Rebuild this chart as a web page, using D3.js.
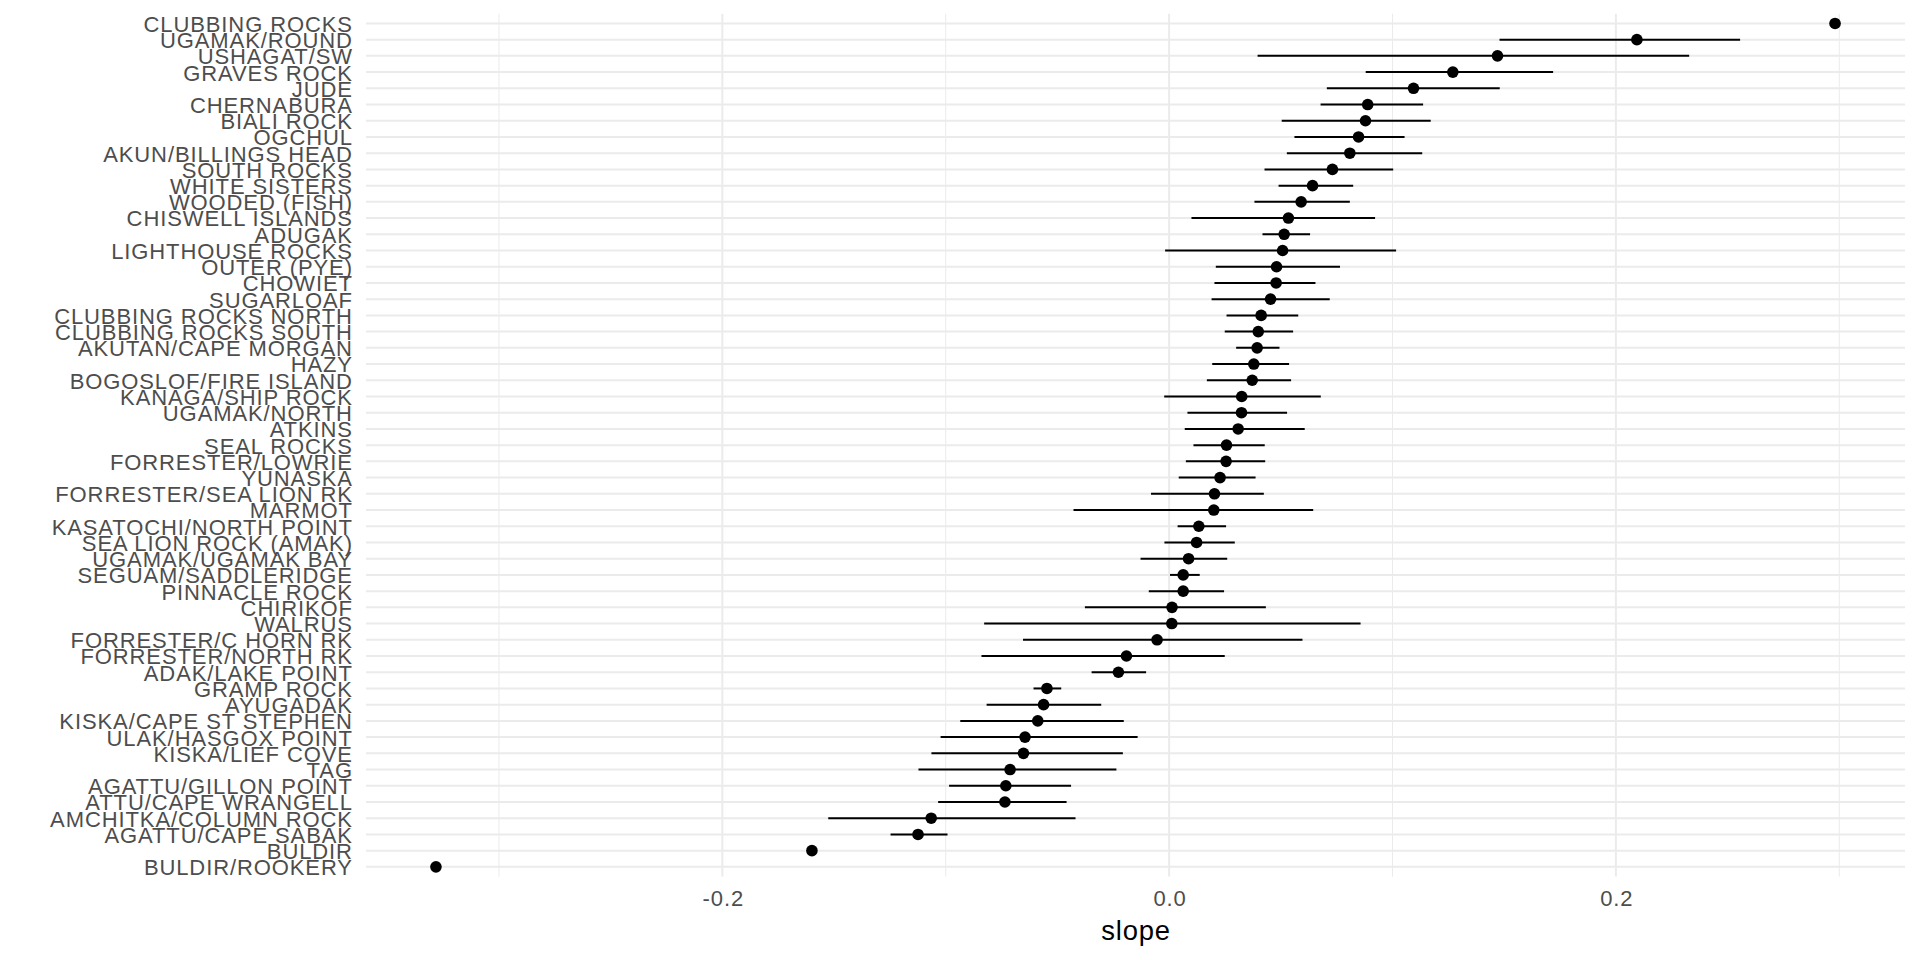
<!DOCTYPE html>
<html>
<head>
<meta charset="utf-8">
<script src="https://cdn.jsdelivr.net/npm/d3@7"></script>
<style>
  html, body { margin: 0; padding: 0; background: #ffffff; }
  svg { display: block; }
  text { font-family: "Liberation Sans", Arial, Helvetica, sans-serif; }
</style>
</head>
<body>
<script>
// ---- data ----
const sites = [
  "CLUBBING ROCKS","UGAMAK/ROUND","USHAGAT/SW","GRAVES ROCK","JUDE","CHERNABURA",
  "BIALI ROCK","OGCHUL","AKUN/BILLINGS HEAD","SOUTH ROCKS","WHITE SISTERS","WOODED (FISH)",
  "CHISWELL ISLANDS","ADUGAK","LIGHTHOUSE ROCKS","OUTER (PYE)","CHOWIET","SUGARLOAF",
  "CLUBBING ROCKS NORTH","CLUBBING ROCKS SOUTH","AKUTAN/CAPE MORGAN","HAZY",
  "BOGOSLOF/FIRE ISLAND","KANAGA/SHIP ROCK","UGAMAK/NORTH","ATKINS","SEAL ROCKS",
  "FORRESTER/LOWRIE","YUNASKA","FORRESTER/SEA LION RK","MARMOT","KASATOCHI/NORTH POINT",
  "SEA LION ROCK (AMAK)","UGAMAK/UGAMAK BAY","SEGUAM/SADDLERIDGE","PINNACLE ROCK",
  "CHIRIKOF","WALRUS","FORRESTER/C HORN RK","FORRESTER/NORTH RK","ADAK/LAKE POINT",
  "GRAMP ROCK","AYUGADAK","KISKA/CAPE ST STEPHEN","ULAK/HASGOX POINT","KISKA/LIEF COVE",
  "TAG","AGATTU/GILLON POINT","ATTU/CAPE WRANGELL","AMCHITKA/COLUMN ROCK",
  "AGATTU/CAPE SABAK","BULDIR","BULDIR/ROOKERY"
];
const slope = [
  0.2981, 0.2094, 0.1470, 0.1270, 0.1094, 0.0889,
  0.0879, 0.0848, 0.0809, 0.0731, 0.0642, 0.0591,
  0.0534, 0.0515, 0.0508, 0.0481, 0.0479, 0.0454,
  0.0412, 0.0399, 0.0394, 0.0379,
  0.0372, 0.0325, 0.0324, 0.0309, 0.0257,
  0.0255, 0.0228, 0.0203, 0.0200, 0.0133,
  0.0123, 0.0087, 0.0063, 0.0063,
  0.0013, 0.0012, -0.0054, -0.0191, -0.0227,
  -0.0547, -0.0562, -0.0588, -0.0645, -0.0652,
  -0.0712, -0.0731, -0.0735, -0.1065,
  -0.1124, -0.1599, -0.3282
];
const lower = [
  null, 0.1479, 0.0396, 0.0880, 0.0706, 0.0678,
  0.0504, 0.0561, 0.0527, 0.0427, 0.0490, 0.0382,
  0.0100, 0.0418, -0.0018, 0.0209, 0.0203, 0.0190,
  0.0257, 0.0249, 0.0300, 0.0193,
  0.0169, -0.0022, 0.0082, 0.0070, 0.0109,
  0.0075, 0.0043, -0.0081, -0.0428, 0.0038,
  -0.0021, -0.0128, 0.0004, -0.0091,
  -0.0377, -0.0828, -0.0654, -0.0840, -0.0347,
  -0.0607, -0.0817, -0.0935, -0.1023, -0.1064,
  -0.1122, -0.0985, -0.1034, -0.1526,
  -0.1247, null, null
];
const upper = [
  null, 0.2556, 0.2328, 0.1719, 0.1480, 0.1137,
  0.1171, 0.1054, 0.1133, 0.1003, 0.0824, 0.0809,
  0.0922, 0.0631, 0.1016, 0.0765, 0.0655, 0.0719,
  0.0578, 0.0555, 0.0494, 0.0537,
  0.0546, 0.0679, 0.0528, 0.0607, 0.0428,
  0.0430, 0.0387, 0.0424, 0.0645, 0.0255,
  0.0294, 0.0260, 0.0137, 0.0246,
  0.0433, 0.0857, 0.0597, 0.0249, -0.0103,
  -0.0483, -0.0304, -0.0203, -0.0141, -0.0207,
  -0.0236, -0.0439, -0.0459, -0.0419,
  -0.0992, null, null
];
const majorTicks = [-0.2, 0.0, 0.2];
const majorTickLabels = ["-0.2", "0.0", "0.2"];
const minorTicks = [-0.3, -0.1, 0.1, 0.3];
const xTitle = "slope";

// ---- layout ----
const W = 1920, H = 960;
const panel = { left: 366, right: 1905, top: 13.7, bottom: 876.6 };
const FONT = '"Liberation Sans", Arial, Helvetica, sans-serif';
const LS = 0.9; // letter spacing to match reference glyph advances

const rows = sites.map((s, i) => ({ site: s, est: slope[i], lo: lower[i], hi: upper[i] }));

const allVals = [].concat(slope, lower.filter(v => v != null), upper.filter(v => v != null));
const [vmin, vmax] = d3.extent(allVals);
const pad = (vmax - vmin) * 0.05;

const x = d3.scaleLinear().domain([vmin - pad, vmax + pad]).range([panel.left, panel.right]);
const y = d3.scalePoint().domain(sites).range([panel.top, panel.bottom]).padding(0.6);

const svg = d3.select("body").append("svg").attr("width", W).attr("height", H);

// grid: minor vertical
svg.append("g").selectAll("line").data(minorTicks).join("line")
  .attr("x1", d => x(d)).attr("x2", d => x(d))
  .attr("y1", panel.top).attr("y2", panel.bottom)
  .attr("stroke", "#EBEBEB").attr("stroke-width", 1);

// grid: major vertical
svg.append("g").selectAll("line").data(majorTicks).join("line")
  .attr("x1", d => x(d)).attr("x2", d => x(d))
  .attr("y1", panel.top).attr("y2", panel.bottom)
  .attr("stroke", "#EBEBEB").attr("stroke-width", 2);

// grid: major horizontal (one per site)
svg.append("g").selectAll("line").data(sites).join("line")
  .attr("x1", panel.left).attr("x2", panel.right)
  .attr("y1", d => y(d)).attr("y2", d => y(d))
  .attr("stroke", "#EBEBEB").attr("stroke-width", 2);

// intervals
svg.append("g").selectAll("line").data(rows.filter(r => r.lo != null && r.hi != null)).join("line")
  .attr("x1", d => x(d.lo)).attr("x2", d => x(d.hi))
  .attr("y1", d => y(d.site)).attr("y2", d => y(d.site))
  .attr("stroke", "#000000").attr("stroke-width", 2);

// points
svg.append("g").selectAll("circle").data(rows).join("circle")
  .attr("cx", d => x(d.est)).attr("cy", d => y(d.site))
  .attr("r", 5.8).attr("fill", "#000000");

// y axis labels
const yAxis = d3.axisLeft(y).tickSize(0).tickPadding(14);
const gy = svg.append("g").attr("transform", `translate(${panel.left},0)`).call(yAxis);
gy.select(".domain").remove();
gy.selectAll("text")
  .attr("font-family", FONT)
  .attr("font-size", 22).attr("fill", "#4D4D4D")
  .attr("letter-spacing", LS)
  .attr("dx", LS)
  .attr("dy", "0.36em");

// x axis labels
const xAxis = d3.axisBottom(x).tickValues(majorTicks)
  .tickFormat((d, i) => majorTickLabels[i]).tickSize(0).tickPadding(0);
const gx = svg.append("g").attr("transform", `translate(0,${panel.bottom})`).call(xAxis);
gx.select(".domain").remove();
gx.selectAll("text")
  .attr("font-family", FONT)
  .attr("font-size", 22).attr("fill", "#4D4D4D")
  .attr("letter-spacing", LS)
  .attr("dx", LS / 2)
  .attr("y", 29.5).attr("dy", 0);

// x title
svg.append("text")
  .attr("x", (panel.left + panel.right) / 2 + 0.5)
  .attr("y", 940)
  .attr("text-anchor", "middle")
  .attr("font-family", FONT)
  .attr("font-size", 27.4)
  .attr("letter-spacing", 0.8)
  .attr("fill", "#000000")
  .text(xTitle);
</script>
</body>
</html>
